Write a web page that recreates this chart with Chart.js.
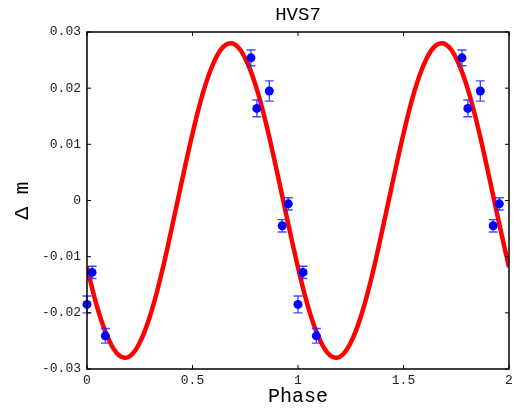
<!DOCTYPE html>
<html>
<head>
<meta charset="utf-8">
<title>HVS7</title>
<script src="https://cdn.jsdelivr.net/npm/chart.js@4.4.1/dist/chart.umd.min.js"></script>
<style>
    html, body { margin: 0; padding: 0; background: #ffffff; }
</style>
</head>
<body>
<canvas id="hvs7-chart" width="514" height="409"></canvas>
<script>
// observed photometry, folded and plotted over two cycles
const obsPhase = [0.000, 0.024, 0.087, 0.777, 0.805, 0.864, 0.925, 0.954,
                  1.000, 1.024, 1.087, 1.777, 1.805, 1.864, 1.925, 1.954];
const obsMag = [-0.0185, -0.0128, -0.0241, 0.0254, 0.0164, 0.0195, -0.0045, -0.0006,
                -0.0185, -0.0128, -0.0241, 0.0254, 0.0164, 0.0195, -0.0045, -0.0006];
const obsErr = [0.0015, 0.0011, 0.0013, 0.0014, 0.0015, 0.0018, 0.0011, 0.0011,
                0.0015, 0.0011, 0.0013, 0.0014, 0.0015, 0.0018, 0.0011, 0.0011];

// fitted curve, every 0.05 in phase
const fitPhase = [0.00, 0.05, 0.10, 0.15, 0.20, 0.25, 0.30, 0.35, 0.40, 0.45,
                  0.50, 0.55, 0.60, 0.65, 0.70, 0.75, 0.80, 0.85, 0.90, 0.95,
                  1.00, 1.05, 1.10, 1.15, 1.20, 1.25, 1.30, 1.35, 1.40, 1.45,
                  1.50, 1.55, 1.60, 1.65, 1.70, 1.75, 1.80, 1.85, 1.90, 1.95, 2.00];
const fitMag = [-0.0119, -0.0192, -0.0245, -0.0275, -0.0278, -0.0253, -0.0204, -0.0135, -0.0052, 0.0035,
                0.0119, 0.0192, 0.0245, 0.0275, 0.0278, 0.0253, 0.0204, 0.0135, 0.0052, -0.0035,
                -0.0119, -0.0192, -0.0245, -0.0275, -0.0278, -0.0253, -0.0204, -0.0135, -0.0052, 0.0035,
                0.0119, 0.0192, 0.0245, 0.0275, 0.0278, 0.0253, 0.0204, 0.0135, 0.0052, -0.0035, -0.0119];

const xTicks = [0, 0.5, 1, 1.5, 2];
const yTicks = [-0.03, -0.02, -0.01, 0, 0.01, 0.02, 0.03];

const FONT = "'Liberation Mono', 'Courier New', monospace";
const TICK_LEN = 4;
const CAP = 4.5;

const errorBars = {
    id: "errorBars",
    afterDatasetDraw(chart, args) {
        // draw after the curve, before the points
        if (args.index !== 1) {
            return;
        }
        const { ctx, scales: { x, y } } = chart;
        ctx.save();
        ctx.strokeStyle = "rgba(40, 40, 255, 0.85)";
        ctx.lineWidth = 1.4;
        ctx.beginPath();
        obsPhase.forEach((p, i) => {
            const px = x.getPixelForValue(p);
            const lo = y.getPixelForValue(obsMag[i] - obsErr[i]);
            const hi = y.getPixelForValue(obsMag[i] + obsErr[i]);
            ctx.moveTo(px, lo);
            ctx.lineTo(px, hi);
            ctx.moveTo(px - CAP, lo);
            ctx.lineTo(px + CAP, lo);
            ctx.moveTo(px - CAP, hi);
            ctx.lineTo(px + CAP, hi);
        });
        ctx.stroke();
        ctx.restore();
    }
};

const frameTicks = {
    id: "frameTicks",
    afterDraw(chart) {
        const { ctx, chartArea: a, scales: { x, y } } = chart;
        ctx.save();
        ctx.strokeStyle = "#000000";
        ctx.lineWidth = 1;
        ctx.beginPath();
        xTicks.forEach(v => {
            const px = x.getPixelForValue(v);
            ctx.moveTo(px, a.bottom);
            ctx.lineTo(px, a.bottom - TICK_LEN);
            ctx.moveTo(px, a.top);
            ctx.lineTo(px, a.top + TICK_LEN);
        });
        yTicks.forEach(v => {
            const py = y.getPixelForValue(v);
            ctx.moveTo(a.left, py);
            ctx.lineTo(a.left + TICK_LEN, py);
            ctx.moveTo(a.right, py);
            ctx.lineTo(a.right - TICK_LEN, py);
        });
        ctx.stroke();
        ctx.lineWidth = 1.5;
        ctx.strokeRect(a.left, a.top, a.right - a.left, a.bottom - a.top);
        ctx.restore();
    }
};

const canvas = document.getElementById("hvs7-chart");

new Chart(canvas, {
    type: "scatter",
    data: {
        datasets: [
            {
                label: "data",
                data: obsPhase.map((p, i) => ({ x: p, y: obsMag[i] })),
                backgroundColor: "#0000ff",
                borderWidth: 0,
                pointRadius: 4.5,
                pointHoverRadius: 4.5,
                clip: false,
                order: 0
            },
            {
                label: "fit",
                data: fitPhase.map((p, i) => ({ x: p, y: fitMag[i] })),
                showLine: true,
                borderColor: "#ff0000",
                borderWidth: 4.5,
                tension: 0.4,
                pointRadius: 0,
                pointHoverRadius: 0,
                order: 1
            }
        ]
    },
    options: {
        responsive: false,
        animation: false,
        events: [],
        layout: { padding: 0 },
        plugins: {
            legend: { display: false },
            tooltip: { enabled: false },
            title: { display: false }
        },
        scales: {
            x: {
                type: "linear",
                min: 0,
                max: 2,
                afterFit: scale => {
                    scale.height = 40;
                    scale.paddingLeft = 0;
                    scale.paddingRight = 5;
                },
                afterBuildTicks: scale => { scale.ticks = xTicks.map(v => ({ value: v })); },
                grid: { display: false, drawTicks: false },
                border: { display: false },
                ticks: {
                    padding: 4,
                    color: "#222222",
                    font: { family: FONT, size: 13 },
                    callback: v => String(v)
                },
                title: {
                    display: true,
                    text: "Phase",
                    color: "#000000",
                    font: { family: FONT, size: 20 },
                    padding: { top: 0, bottom: 0 }
                }
            },
            // top axis only carries the chart title, centred over the plot box
            x2: {
                type: "linear",
                position: "top",
                min: 0,
                max: 2,
                afterFit: scale => {
                    scale.height = 32;
                    scale.paddingLeft = 0;
                    scale.paddingRight = 5;
                },
                grid: { display: false, drawTicks: false },
                border: { display: false },
                ticks: { display: false },
                title: {
                    display: true,
                    text: "HVS7",
                    color: "#000000",
                    font: { family: FONT, size: 19 },
                    padding: { top: 4, bottom: 0 }
                }
            },
            y: {
                type: "linear",
                min: -0.03,
                max: 0.03,
                afterFit: scale => { scale.width = 87; },
                afterBuildTicks: scale => { scale.ticks = yTicks.map(v => ({ value: v })); },
                grid: { display: false, drawTicks: false },
                border: { display: false },
                ticks: {
                    padding: 6,
                    color: "#222222",
                    font: { family: FONT, size: 13 },
                    callback: v => (Math.abs(v) < 1e-9 ? "0" : v.toFixed(2))
                },
                title: {
                    display: true,
                    text: "Δ m",
                    color: "#000000",
                    font: { family: FONT, size: 21 },
                    padding: { top: 10, bottom: 0 }
                }
            }
        }
    },
    plugins: [errorBars, frameTicks]
});
</script>
</body>
</html>
